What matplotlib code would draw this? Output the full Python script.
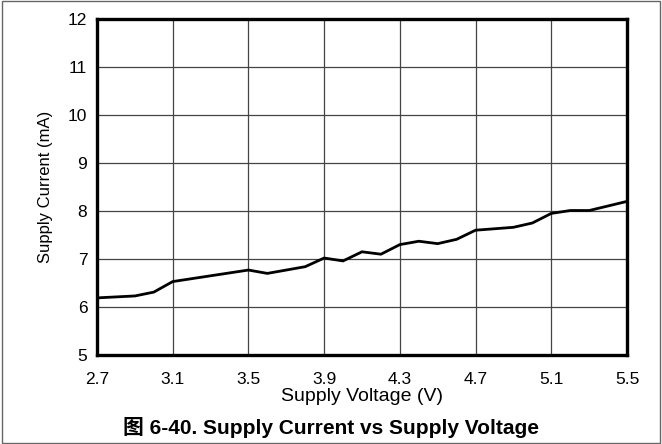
import matplotlib
matplotlib.use("Agg")
import matplotlib.pyplot as plt
from matplotlib.patches import Rectangle

voltage = [2.7, 2.9, 3.0, 3.1, 3.5, 3.6, 3.8, 3.9, 4.0, 4.1, 4.2, 4.3, 4.4, 4.5,
           4.6, 4.7, 4.9, 5.0, 5.1, 5.2, 5.3, 5.5]
current = [6.19, 6.23, 6.31, 6.53, 6.77, 6.70, 6.84, 7.02, 6.96, 7.15, 7.10, 7.30,
           7.37, 7.32, 7.41, 7.60, 7.66, 7.75, 7.95, 8.01, 8.01, 8.20]
x_ticks = [2.7, 3.1, 3.5, 3.9, 4.3, 4.7, 5.1, 5.5]
y_ticks = [5, 6, 7, 8, 9, 10, 11, 12]

fam = ['Liberation Sans', 'Noto Sans CJK SC', 'DejaVu Sans']
plt.rcParams['font.family'] = fam

fig = plt.figure(figsize=(6.62, 4.44), dpi=100)
ax = fig.add_axes([97/662, 1-355/444, (627-97)/662, (355-19)/444])

ax.plot(voltage, current, color='black', lw=2.0, solid_joinstyle='miter')
ax.set_xlim(2.7, 5.5)
ax.set_ylim(5, 12)
ax.set_xticks(x_ticks)
ax.set_xticklabels([f"{v:.1f}" for v in x_ticks])
ax.set_yticks(y_ticks)
ax.grid(True, color='#444444', lw=0.9)
ax.tick_params(length=0, labelsize=12.5, colors='black')
ax.tick_params(axis='x', pad=12)
ax.tick_params(axis='y', pad=7)
for s in ax.spines.values():
    s.set_linewidth(2.4)
ax.set_xlabel('Supply Voltage (V)', fontsize=14, labelpad=1)
ax.set_ylabel('Supply Current (mA)', fontsize=12, labelpad=11)

fig.text(0.5, 1-427/444, '图 6-40. Supply Current vs Supply Voltage', ha='center',
         va='center', fontsize=15, fontweight='bold', family=fam)

fig.patches.append(Rectangle((0.003, 0.002), 0.994, 0.995, transform=fig.transFigure,
                             fill=False, edgecolor='#666666', lw=1.0))

fig.savefig('out.png', dpi=100)
